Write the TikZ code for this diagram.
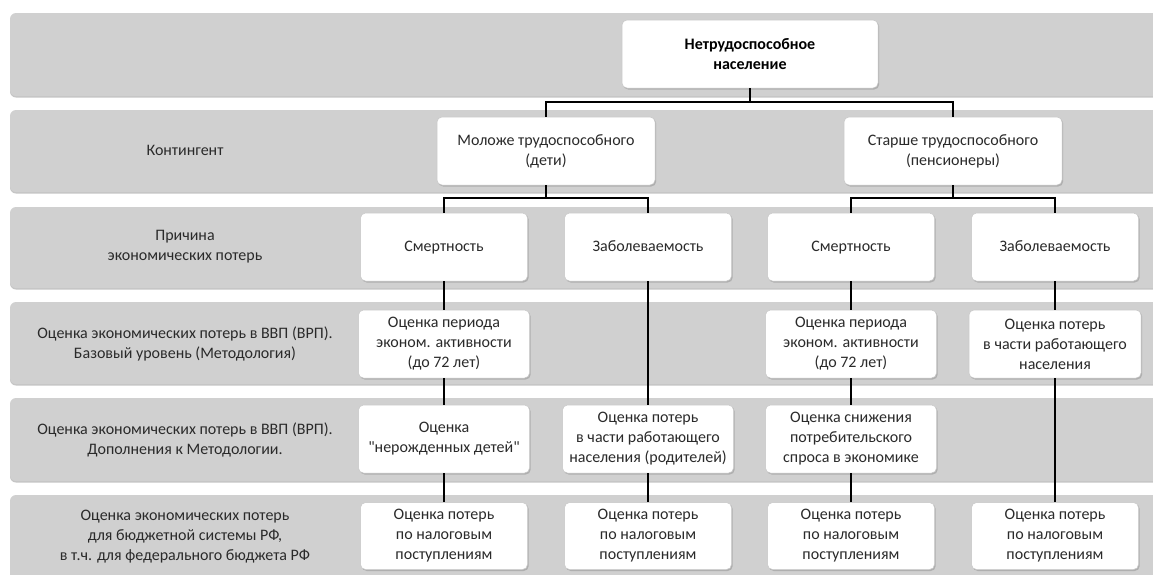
\documentclass[tikz,border=0pt]{standalone}
\usepackage{fontspec}
\setmainfont{Carlito}[Ligatures=TeXOff]
\usetikzlibrary{shadows}
\definecolor{bandgray}{HTML}{D0D0D0}
\definecolor{txt}{HTML}{2A2A2A}
\begin{document}
\begin{tikzpicture}[x=1pt,y=1pt,
  band/.style={fill=bandgray, rounded corners=6pt,
    drop shadow={shadow xshift=0pt, shadow yshift=-1.5pt, fill=gray!90, opacity=0.5}},
  box/.style={draw=gray!45, line width=0.5pt, fill=white, rounded corners=5pt,
    align=center, inner sep=0pt, minimum height=68pt, text=txt,
    font=\fontsize{16}{20}\selectfont,
    drop shadow={shadow xshift=1.2pt, shadow yshift=-1.5pt, fill=gray!80, opacity=0.6}},
  lbl/.style={align=center, text=txt, font=\fontsize{16}{20}\selectfont},
  conn/.style={line width=2.4pt, black}]
\useasboundingbox (0,0) rectangle (1153,-574);
\clip (0,0) rectangle (1153,-574);
\fill[white] (0,0) rectangle (1153,-574);
% bands
\path[band] (10,-13) rectangle (1170,-96);
\path[band] (10,-110) rectangle (1170,-192);
\path[band] (10,-207) rectangle (1170,-288);
\path[band] (10,-302) rectangle (1170,-384);
\path[band] (10,-398) rectangle (1170,-481);
\path[band] (10,-495) rectangle (1170,-600);
% row labels
\node[lbl] (r2) at (185,-151) {\strut Контингент};
\node[lbl] (r3) at (185,-247) {Причина\\экономических потерь};
\node[lbl] (r4) at (185,-344) {Оценка экономических потерь в ВВП (ВРП).\\Базовый уровень (Методология)};
\node[lbl] (r5) at (185,-440) {Оценка экономических потерь в ВВП (ВРП).\\Дополнения к Методологии.};
\node[lbl] (r6) at (185,-537) {Оценка экономических потерь\\для бюджетной системы РФ,\\в т.ч. для федерального бюджета РФ};
% boxes
\node[box, minimum width=256pt, font=\fontsize{16}{20}\selectfont\bfseries, text=black] (top) at (750,-54) {Нетрудоспособное\\население};
\node[box, minimum width=218pt] (l2a) at (546,-151) {Моложе трудоспособного\\(дети)};
\node[box, minimum width=218pt] (l2b) at (953,-151) {Старше трудоспособного\\(пенсионеры)};
\node[box, minimum width=167pt] (l3a) at (444,-247) {\strut Смертность};
\node[box, minimum width=167pt] (l3b) at (648,-247) {\strut Заболеваемость};
\node[box, minimum width=167pt] (l3c) at (851,-247) {\strut Смертность};
\node[box, minimum width=167pt] (l3d) at (1055,-247) {\strut Заболеваемость};
\node[box, minimum width=171pt] (l4a) at (444,-344) {Оценка периода\\эконом. активности\\(до 72 лет)};
\node[box, minimum width=171pt] (l4c) at (851,-344) {Оценка периода\\эконом. активности\\(до 72 лет)};
\node[box, minimum width=172pt] (l4d) at (1055,-344) {Оценка потерь\\в части работающего\\населения};
\node[box, minimum width=171pt] (l5a) at (444,-439) {Оценка\\"нерожденных детей"};
\node[box, minimum width=171pt] (l5b) at (648,-439) {Оценка потерь\\в части работающего\\населения (родителей)};
\node[box, minimum width=171pt] (l5c) at (851,-439) {Оценка снижения\\потребительского\\спроса в экономике};
\node[box, minimum width=167pt, minimum height=67pt] (l6a) at (444,-536) {Оценка потерь\\по налоговым\\поступлениям};
\node[box, minimum width=167pt, minimum height=67pt] (l6b) at (648,-536) {Оценка потерь\\по налоговым\\поступлениям};
\node[box, minimum width=167pt, minimum height=67pt] (l6c) at (851,-536) {Оценка потерь\\по налоговым\\поступлениям};
\node[box, minimum width=167pt, minimum height=67pt] (l6d) at (1055,-536) {Оценка потерь\\по налоговым\\поступлениям};
% connectors
\draw[conn] (top.south) -- ++(0,-14) -| (l2a.north);
\draw[conn] (top.south) ++(0,-14) -| (l2b.north);
\draw[conn] (l2a.south) -- ++(0,-13) -| (l3a.north);
\draw[conn] (l2a.south) ++(0,-13) -| (l3b.north);
\draw[conn] (l2b.south) -- ++(0,-13) -| (l3c.north);
\draw[conn] (l2b.south) ++(0,-13) -| (l3d.north);
\draw[conn] (l3a.south) -- (l4a.north);
\draw[conn] (l4a.south) -- (l5a.north);
\draw[conn] (l5a.south) -- (l6a.north);
\draw[conn] (l3b.south) -- (l5b.north);
\draw[conn] (l5b.south) -- (l6b.north);
\draw[conn] (l3c.south) -- (l4c.north);
\draw[conn] (l4c.south) -- (l5c.north);
\draw[conn] (l5c.south) -- (l6c.north);
\draw[conn] (l3d.south) -- (l4d.north);
\draw[conn] (l4d.south) -- (l6d.north);
\end{tikzpicture}
\end{document}
